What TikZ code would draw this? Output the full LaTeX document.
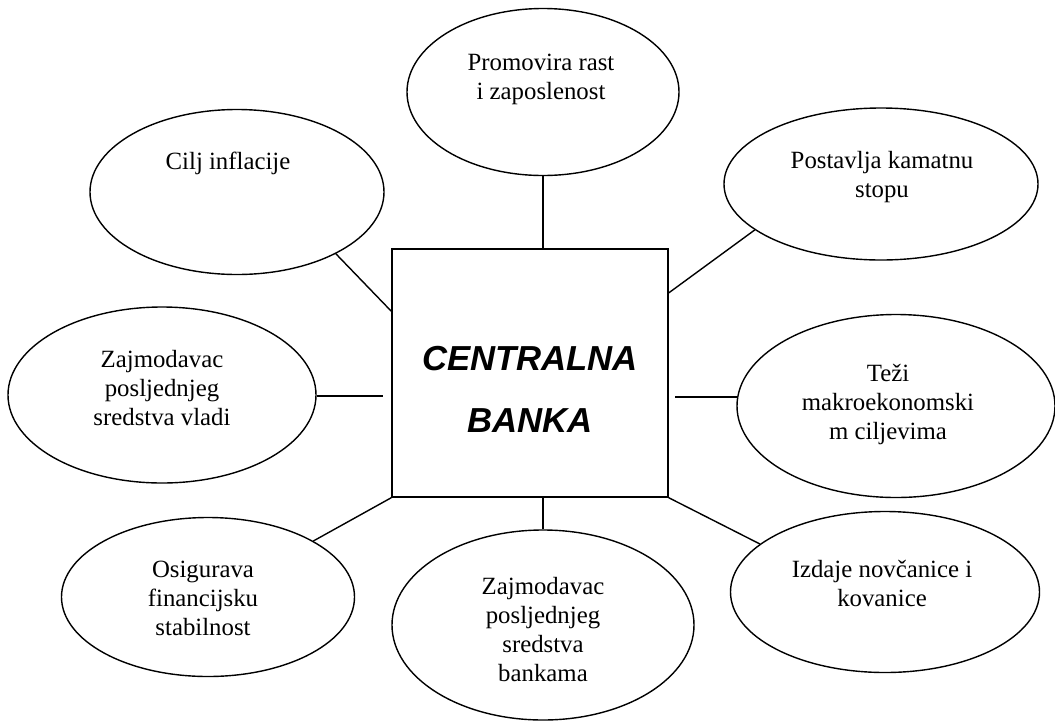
\documentclass[tikz,border=0pt]{standalone}
\usepackage{fontspec}
\setmainfont{Liberation Serif}
\newfontfamily\cbfont{Liberation Sans}
\usetikzlibrary{shapes.geometric}
\tikzset{
  bub/.style={draw, ellipse, inner sep=0pt, line width=1.4pt},
  btxt/.style={align=center, inner sep=0pt, font=\fontsize{24.8}{29}\selectfont},
  conn/.style={line width=1.4pt},
}
\begin{document}
\begin{tikzpicture}[x=1pt,y=-1pt]
\useasboundingbox (0,0) rectangle (1055,721);
% central box
\node[draw, line width=1.4pt, minimum width=276pt, minimum height=248pt, inner sep=0pt] (box) at (530,373) {};
\node[align=center, inner sep=0pt, font=\cbfont\bfseries\itshape\fontsize{34.7}{62}\selectfont] (boxt) at (530,389) {CENTRALNA\\BANKA};
% ellipses
\node[bub, minimum width=272pt, minimum height=167pt] (prom) at (543,92) {};
\node[bub, minimum width=294pt, minimum height=165pt] (cilj) at (237,192) {};
\node[bub, minimum width=314pt, minimum height=152pt] (post) at (881,184) {};
\node[bub, minimum width=308pt, minimum height=176pt] (vladi) at (162,395) {};
\node[bub, minimum width=318pt, minimum height=183pt] (tezi) at (896,406) {};
\node[bub, minimum width=293pt, minimum height=159pt] (osig) at (208,597) {};
\node[bub, minimum width=302pt, minimum height=190pt] (bank) at (543,625) {};
\node[bub, minimum width=309pt, minimum height=161pt] (izd) at (885,592) {};
% texts
\node[btxt] (promt) at (541,79) {Promovira rast\\i zaposlenost};
\node[btxt] (ciljt) at (228,163) {Cilj inflacije};
\node[btxt] (postt) at (882,177) {Postavlja kamatnu\\stopu};
\node[btxt] (vladit) at (162,388) {Zajmodavac\\posljednjeg\\sredstva vladi};
\node[btxt] (tezit) at (888,405) {Teži\\makroekonomski\\m ciljevima};
\node[btxt] (osigt) at (203,598) {Osigurava\\financijsku\\stabilnost};
\node[btxt] (bankt) at (543,630) {Zajmodavac\\posljednjeg\\sredstva\\bankama};
\node[btxt] (izdt) at (882,583) {Izdaje novčanice i\\kovanice};
% free ends
\coordinate (vg) at (383,396);
\coordinate (tg) at (675,397);
\coordinate (te) at (738,397);
% connectors
\draw[conn] (prom.south) -- (prom.south |- box.north);
\draw[conn] (cilj.-32) -- (box.156.5);
\draw[conn] (post.-160.4) -- (box.30.1);
\draw[conn] (vladi.east |- vg) -- (vg);
\draw[conn] (tg) -- (te);
\draw[conn] (osig.28.3) -- (box.south west);
\draw[conn] (bank.north) -- (bank.north |- box.south);
\draw[conn] (izd.159) -- (box.south east);
\end{tikzpicture}
\end{document}
